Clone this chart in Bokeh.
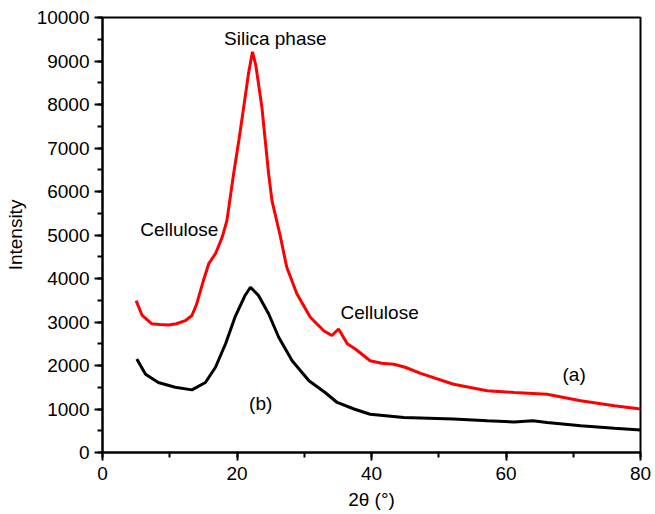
from bokeh.plotting import figure
from bokeh.models import SingleIntervalTicker, Label, Title
from bokeh.embed import file_html
from bokeh.resources import INLINE

# Curve (a) - red
xa = [5.0, 5.9, 7.3, 8.5, 9.8, 11.0, 12.3, 13.3, 14.0, 15.0, 15.8, 16.8, 17.8, 18.5,
      19.5, 20.3, 21.0, 21.7, 22.3, 22.8, 23.7, 24.7, 25.2, 26.4, 27.4, 28.9, 30.9,
      32.9, 34.1, 35.1, 36.4, 37.6, 39.8, 41.5, 43.3, 45.0, 47.3, 52.2, 57.2, 61.2,
      66.1, 71.1, 76.1, 80.0]
ya = [3490, 3150, 2960, 2940, 2930, 2960, 3030, 3150, 3410, 3950, 4340, 4570, 4950, 5330,
      6410, 7200, 7940, 8700, 9210, 8900, 7940, 6410, 5790, 5000, 4260, 3650, 3110,
      2800, 2690, 2840, 2500, 2380, 2110, 2050, 2030, 1960, 1820, 1570, 1420, 1380,
      1340, 1190, 1075, 1000]

# Curve (b) - black
xb = [5.1, 6.4, 8.3, 10.8, 13.3, 15.3, 16.8, 18.3, 19.7, 21.2, 22.0, 23.2, 24.7, 26.2,
      28.2, 30.7, 33.1, 34.9, 37.4, 39.8, 44.8, 52.2, 57.2, 61.2, 64.0, 66.1, 71.1,
      76.1, 80.0]
yb = [2150, 1800, 1610, 1500, 1440, 1610, 1960, 2500, 3110, 3610, 3800, 3610, 3190, 2650,
      2110, 1650, 1380, 1150, 1000, 880, 805, 770, 730, 700, 730, 690, 615,
      560, 520]

FONT = "Liberation Sans"

p = figure(width=655, height=514, x_range=(0, 80), y_range=(0, 10000),
           output_backend="svg", toolbar_location=None,
           min_border_left=102, min_border_right=15, min_border_top=17,
           min_border_bottom=62)

p.line(xa, ya, line_color="#ff0000", line_width=3)
p.line(xb, yb, line_color="#000000", line_width=3)

p.xgrid.visible = False
p.ygrid.visible = False
p.outline_line_color = "black"
p.outline_line_width = 2
p.outline_line_alpha = 1

p.xaxis.ticker = SingleIntervalTicker(interval=20, num_minor_ticks=2)
p.yaxis.ticker = SingleIntervalTicker(interval=1000, num_minor_ticks=2)

for ax in (p.xaxis[0], p.yaxis[0]):
    ax.axis_line_width = 2
    ax.major_tick_line_width = 2
    ax.minor_tick_line_width = 2
    ax.major_tick_out = 8
    ax.major_tick_in = 0
    ax.minor_tick_out = 5
    ax.minor_tick_in = 0
    ax.major_label_text_font = FONT
    ax.major_label_text_font_size = "19px"
    ax.major_label_text_color = "black"
    ax.axis_label_text_font = FONT
    ax.axis_label_text_font_size = "19px"
    ax.axis_label_text_font_style = "normal"
    ax.axis_label_text_color = "black"

p.xaxis.major_label_standoff = 6
p.yaxis.major_label_standoff = 5
p.yaxis.axis_label = "Intensity"
p.yaxis.axis_label_standoff = 8

p.add_layout(Title(text="2θ (°)", align="center", vertical_align="bottom",
                   text_font=FONT, text_font_size="19px", text_font_style="normal",
                   text_color="black", standoff=8), "below")

def add_label(x, y, text, align="left"):
    p.add_layout(Label(x=x, y=y, text=text, text_font=FONT, text_font_size="19px",
                       text_align=align, text_baseline="middle", text_color="black"))

add_label(25.7, 9520, "Silica phase", "center")
add_label(5.6, 5120, "Cellulose")
add_label(35.4, 3210, "Cellulose")
add_label(68.4, 1790, "(a)")
add_label(21.8, 1120, "(b)")

open("out.html", "w").write(file_html(p, INLINE))
